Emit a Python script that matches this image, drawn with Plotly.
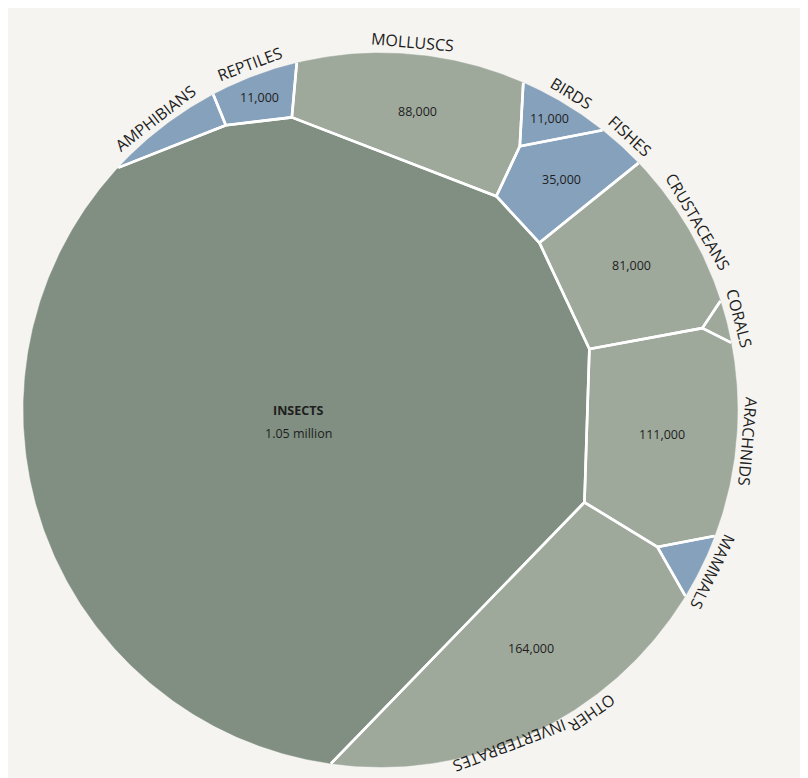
import math
import plotly.graph_objects as go

# ---------------- data ----------------
categories = ["Insects", "Other invertebrates", "Arachnids", "Molluscs", "Crustaceans",
              "Fishes", "Birds", "Reptiles", "Amphibians", "Mammals", "Corals"]
species = [1050000, 164000, 111000, 88000, 81000, 35000, 11000, 11000, 8500, 6500, 2200]
kind = ["insects", "invertebrates", "invertebrates", "invertebrates", "invertebrates",
        "vertebrates", "vertebrates", "vertebrates", "vertebrates", "vertebrates", "invertebrates"]

# ---------------- style ----------------
colors = {"insects": "#808f81", "invertebrates": "#9ea99c", "vertebrates": "#86a1bb"}
BG = "#f5f4f0"
TEXT = "#1e1e1e"
FONT = "Open Sans"

# layout hints: starting positions of the Voronoi sites in the unit disc
seed_x = [-0.18, 0.46, 0.80, 0.17, 0.71, 0.54, 0.50, -0.27, -0.54, 0.85, 0.965]
seed_y = [0.02, -0.69, -0.06, 0.83, 0.39, 0.62, 0.79, 0.92, 0.81, -0.43, 0.23]

N = len(categories)


def circle_poly(n):
    return [(math.cos(2 * math.pi * k / n), math.sin(2 * math.pi * k / n)) for k in range(n)]


def clip(poly, a, b, c):
    out = []
    n = len(poly)
    for k in range(n):
        P = poly[k]
        Q = poly[(k + 1) % n]
        fp = a * P[0] + b * P[1] - c
        fq = a * Q[0] + b * Q[1] - c
        if fp <= 0:
            out.append(P)
        if (fp <= 0) != (fq <= 0):
            t = fp / (fp - fq)
            out.append((P[0] + t * (Q[0] - P[0]), P[1] + t * (Q[1] - P[1])))
    return out


def area_centroid(poly):
    n = len(poly)
    if n < 3:
        return 0.0, None
    A = cx = cy = 0.0
    for k in range(n):
        x0, y0 = poly[k]
        x1, y1 = poly[(k + 1) % n]
        cr = x0 * y1 - x1 * y0
        A += cr
        cx += (x0 + x1) * cr
        cy += (y0 + y1) * cr
    A *= 0.5
    if abs(A) < 1e-12:
        return 0.0, None
    return A, (cx / (6 * A), cy / (6 * A))


def power_cells(xs, ys, ws, base):
    cells = []
    for i in range(N):
        order = sorted([j for j in range(N) if j != i],
                       key=lambda j: (xs[j] - xs[i]) ** 2 + (ys[j] - ys[i]) ** 2)
        poly = base
        for j in order:
            a = 2 * (xs[j] - xs[i])
            b = 2 * (ys[j] - ys[i])
            c = (xs[j] ** 2 + ys[j] ** 2 - xs[i] ** 2 - ys[i] ** 2 - ws[j] + ws[i])
            poly = clip(poly, a, b, c)
            if len(poly) < 3:
                break
        cells.append(poly)
    return cells


def fix_overweight(xs, ys, ws):
    for _ in range(3):
        changed = False
        for i in range(N):
            for j in range(i + 1, N):
                d2 = (xs[i] - xs[j]) ** 2 + (ys[i] - ys[j]) ** 2
                hi, lo = (i, j) if ws[i] >= ws[j] else (j, i)
                over = ws[hi] - ws[lo] - d2
                if over > 0:
                    ws[lo] += over + 1e-9
                    changed = True
        if not changed:
            break


# ---------------- Voronoi treemap (power diagram) ----------------
base = circle_poly(240)
disc_area, _ = area_centroid(base)
tot = float(sum(species))
targets = [v / tot * disc_area for v in species]

xs = list(seed_x)
ys = list(seed_y)
ws = [0.02] * N

for it in range(450):
    cells = power_cells(xs, ys, ws, base)
    for i in range(N):
        A, c = area_centroid(cells[i])
        if c is not None:
            xs[i], ys[i] = c
    cells = power_cells(xs, ys, ws, base)
    err = 0.0
    for i in range(N):
        A, _ = area_centroid(cells[i])
        ratio = targets[i] / A if A > 1e-9 else 2.0
        ratio = min(max(ratio, 0.5), 2.0) ** 0.6
        ws[i] = max(ws[i] * ratio, 1e-7)
        err += abs(A - targets[i])
    fix_overweight(xs, ys, ws)
    if it > 15 and err / disc_area < 0.004:
        break

final_cells = power_cells(xs, ys, ws, circle_poly(720))

# ---------------- figure ----------------
R_PX = 357.0
CX, CY = 372.5, 402.0
W_FIG, H_FIG = 800, 770


def on_circle(p):
    return p[0] ** 2 + p[1] ** 2 > 0.9999 ** 2


fig = go.Figure()

for i, poly in enumerate(final_cells):
    px_ = [p[0] for p in poly] + [poly[0][0]]
    py_ = [p[1] for p in poly] + [poly[0][1]]
    fig.add_trace(go.Scatter(
        x=px_, y=py_, mode="lines", fill="toself",
        fillcolor=colors[kind[i]], line=dict(color=colors[kind[i]], width=0.5),
        hoveron="fills", name=categories[i],
        text=f"{categories[i]}: {species[i]:,}", hoverinfo="text",
    ))

# inner borders (white), not along the outer arc
ex, ey = [], []
for poly in final_cells:
    n = len(poly)
    for k in range(n):
        P = poly[k]
        Q = poly[(k + 1) % n]
        if on_circle(P) and on_circle(Q) and math.hypot(P[0] - Q[0], P[1] - Q[1]) < 0.05:
            continue
        ex += [P[0], Q[0], None]
        ey += [P[1], Q[1], None]
fig.add_trace(go.Scatter(x=ex, y=ey, mode="lines", line=dict(color="white", width=2.6),
                         hoverinfo="skip"))


def fmt(v):
    if v >= 1_000_000:
        return f"{v / 1e6:.2f} million"
    return f"{v:,}"


EM = {"A": .63, "B": .65, "C": .63, "D": .73, "E": .56, "F": .52, "G": .73, "H": .75,
      "I": .28, "J": .27, "K": .61, "L": .52, "M": .90, "N": .76, "O": .79, "P": .60,
      "Q": .79, "R": .62, "S": .55, "T": .55, "U": .76, "V": .58, "W": .93, "X": .58,
      "Y": .56, "Z": .56, " ": .26}
LBL_SIZE = 16


def text_w(s):
    return sum(EM.get(ch, .6) for ch in s) * LBL_SIZE


annotations = []
for i, poly in enumerate(final_cells):
    A, c = area_centroid(poly)
    if species[i] >= 10000 and c is not None:
        if kind[i] == "insects":
            annotations.append(dict(x=c[0], y=c[1], text="<b>" + categories[i].upper() + "</b>",
                                    yshift=12, showarrow=False,
                                    font=dict(family=FONT, size=12.5, color=TEXT)))
            annotations.append(dict(x=c[0], y=c[1], text=fmt(species[i]), yshift=-11,
                                    showarrow=False, font=dict(family=FONT, size=12.5, color=TEXT)))
        else:
            annotations.append(dict(x=c[0], y=c[1], text=fmt(species[i]), showarrow=False,
                                    font=dict(family=FONT, size=12.5, color=TEXT)))
    if kind[i] == "insects":
        continue
    # outer label following the boundary arc
    n = len(poly)
    on = [on_circle(p) for p in poly]
    if not any(on):
        continue
    best = None
    for s in range(n):
        if on[s] and not on[(s - 1) % n]:
            L = 0
            while on[(s + L) % n] and L < n:
                L += 1
            if best is None or L > best[1]:
                best = (s, L)
    if best is None:
        best = (0, n)
    s, L = best
    p0 = poly[s]
    p1 = poly[(s + L - 1) % n]
    t0 = math.atan2(p0[1], p0[0])
    t1 = math.atan2(p1[1], p1[0])
    span = (t1 - t0) % (2 * math.pi)
    tm = t0 + span / 2
    label = categories[i].upper()
    words = label.split(" ")
    r_lab = R_PX + 13.5
    total_w = text_w(label)
    pos = 0.0
    theta_start = tm + (total_w / 2) / r_lab
    for wi, word in enumerate(words):
        ww = text_w(word)
        th = theta_start - (pos + ww / 2) / r_lab
        sag = (ww / 2) ** 2 / (2 * r_lab)
        r_c = r_lab - sag / 2
        # keep the rotated text box inside the bottom edge of the figure
        ang = math.radians(90 - math.degrees(th))
        hh = LBL_SIZE * 1.3
        ext = abs(ww / 2 * math.sin(ang)) + abs(hh / 2 * math.cos(ang))
        ybot = CY - r_c * math.sin(th) + ext
        if ybot > H_FIG - 1 and math.sin(th) < 0:
            r_c -= (ybot - (H_FIG - 1)) / (-math.sin(th))
        r_c /= R_PX
        annotations.append(dict(
            x=r_c * math.cos(th), y=r_c * math.sin(th), text=word, showarrow=False,
            textangle=90 - math.degrees(th), xanchor="center", yanchor="middle",
            font=dict(family=FONT, size=LBL_SIZE, color=TEXT)))
        pos += ww + text_w(" ")

fig.update_layout(
    width=W_FIG, height=H_FIG,
    margin=dict(l=0, r=0, t=0, b=0),
    paper_bgcolor=BG, plot_bgcolor=BG,
    showlegend=False,
    xaxis=dict(range=[-CX / R_PX, (W_FIG - CX) / R_PX], visible=False, fixedrange=True),
    yaxis=dict(range=[(CY - H_FIG) / R_PX, CY / R_PX], visible=False, fixedrange=True),
    annotations=annotations,
    hovermode="closest",
)

fig.write_html("out.html")
